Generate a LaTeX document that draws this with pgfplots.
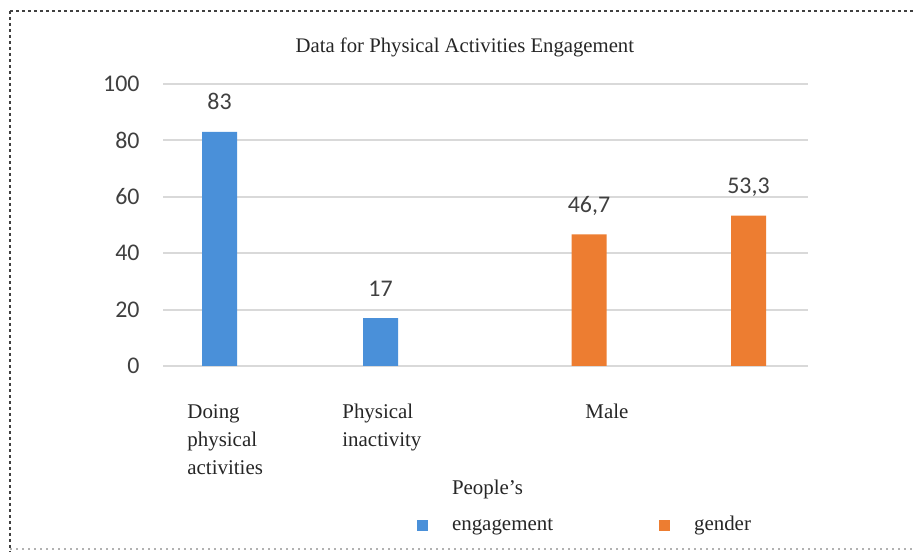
\documentclass[border=0pt]{standalone}
\usepackage{fontspec}
\setmainfont{Liberation Serif}
\newfontfamily\calibri{Carlito}
\usepackage{pgfplots}
\pgfplotsset{compat=1.18}
\definecolor{barblue}{HTML}{4A90D9}
\definecolor{barorange}{HTML}{ED7D31}
\definecolor{gridgray}{HTML}{D9D9D9}
\definecolor{txt}{HTML}{404040}
\begin{document}
\begin{tikzpicture}
\path[use as bounding box] (0,0) rectangle (457bp,276bp);
\fill[white] (0,0) rectangle (457bp,276bp);
\draw[line width=1.3bp, dash pattern=on 1.3bp off 1.7bp, black!75] (5bp,270.5bp) -- (457bp,270.5bp);
\draw[line width=1.3bp, dash pattern=on 1.3bp off 1.7bp, black!75] (5bp,270.5bp) -- (5bp,0bp);
\draw[line width=1bp, dash pattern=on 1bp off 2bp, black!30] (5bp,1.5bp) -- (457bp,1.5bp);
\begin{axis}[
  at={(81.5bp,93bp)}, anchor=south west,
  scale only axis, width=322.5bp, height=141bp,
  xmin=1.63, xmax=8.08, ymin=0, ymax=100,
  ytick={0,20,...,100},
  xtick={1.87,3.42,5.85},
  xticklabels={{Doing\\physical\\activities},{Physical\\inactivity},{Male}},
  xticklabel style={anchor=north west, align=left, inner sep=0pt, yshift=-19bp,
    font=\fontsize{10.5}{14}\selectfont, text=black!85},
  yticklabel style={inner sep=0pt, xshift=-11.5bp, font=\calibri\fontsize{12}{14}\selectfont, text=txt},
  /pgf/number format/assume math mode=true,
  /pgf/number format/use comma,
  /pgf/number format/fixed,
  /pgf/number format/precision=1,
  axis line style={draw=none},
  major tick length=0pt,
  tick style={draw=none},
  ymajorgrids, grid style={gridgray, line width=1bp},
  ybar, bar width=17.5bp, bar shift=0pt,
  nodes near coords,
  nodes near coords style={anchor=base, inner sep=0pt, yshift=11bp,
    font=\calibri\fontsize{12}{14}\selectfont, text=txt},
  title={Data for Physical Activities Engagement},
  title style={at={(0.468,1)}, anchor=base, yshift=10bp, inner sep=0pt,
    font=\fontsize{10.4}{12}\selectfont, text=black!85},
  legend columns=2,
  legend style={at={(0.3938,-0.595)}, anchor=south west, draw=none, fill=none,
    inner sep=0pt, outer sep=0pt, cells={anchor=base west}, nodes={inner sep=0pt},
    font=\fontsize{10.5}{14}\selectfont, text=black!85,
    /tikz/every odd column/.append style={column sep=12bp},
    /tikz/every even column/.append style={column sep=53bp}},
  legend image code/.code={\fill[#1] (0bp,0bp) rectangle (5.5bp,5.5bp);},
]
\addplot[fill=barblue, draw=none] coordinates {(2.195,83) (3.805,17)};
\addlegendentry{\renewcommand{\arraystretch}{1.2857}\begin{tabular}[b]{@{}l@{}}People’s\\engagement\end{tabular}}
\addplot[fill=barorange, draw=none] coordinates {(5.89,46.7) (7.485,53.3)};
\addlegendentry{gender}
\end{axis}
\end{tikzpicture}
\end{document}
